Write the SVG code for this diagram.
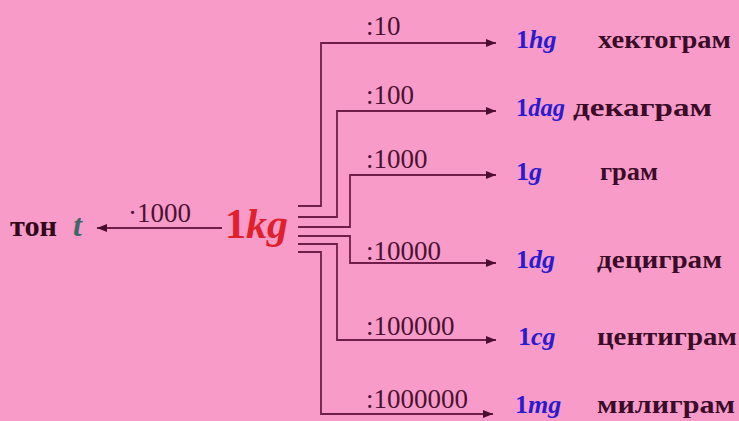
<svg xmlns="http://www.w3.org/2000/svg" width="739" height="421" viewBox="0 0 739 421">
<defs>
<style>
.bg{fill:#F89BC8}
.ln{fill:none;stroke:#6E1E48;stroke-width:1.8}
.lbl{font-family:"Liberation Serif","Times New Roman",serif;font-size:27px;fill:#4A1232}
.unit{font-family:"Liberation Serif","Times New Roman",serif;font-size:26px;font-weight:bold;fill:#2A1AD0}
.name{font-family:"Liberation Serif","Times New Roman",serif;font-size:26px;font-weight:bold;fill:#3A0C28}
.it{font-style:italic}
</style>
<marker id="ah" markerUnits="userSpaceOnUse" markerWidth="10" markerHeight="8" refX="10" refY="4" orient="auto">
<path d="M0,0 L10,4 L0,8 z" fill="#4A0E30"/>
</marker>
</defs>
<rect class="bg" x="0" y="0" width="739" height="421"/>
<g id="connectors">
<path class="ln" d="M222,228 L97,228" marker-end="url(#ah)"/>
<path class="ln" d="M298,206 L321,206 L321,43 L496,43" marker-end="url(#ah)"/>
<path class="ln" d="M298,217 L337,217 L337,111 L496,111" marker-end="url(#ah)"/>
<path class="ln" d="M298,227 L350,227 L350,175 L496,175" marker-end="url(#ah)"/>
<path class="ln" d="M298,236 L350,236 L350,263 L496,263" marker-end="url(#ah)"/>
<path class="ln" d="M298,244 L337,244 L337,340 L496,340" marker-end="url(#ah)"/>
<path class="ln" d="M298,252 L321,252 L321,414 L493,414" marker-end="url(#ah)"/>
<text class="lbl" x="128" y="222">·1000</text>
<text class="lbl" x="366" y="35">:10</text>
<text class="lbl" x="366" y="104">:100</text>
<text class="lbl" x="366" y="168">:1000</text>
<text class="lbl" x="366" y="260">:10000</text>
<text class="lbl" x="366" y="335">:100000</text>
<text class="lbl" x="366" y="408">:1000000</text>
</g>
<g id="ton">
<text x="10" y="236" font-family="Liberation Serif, serif" font-size="30" font-weight="bold" fill="#300818" textLength="47" lengthAdjust="spacingAndGlyphs">тон</text>
<text x="73" y="236" font-family="Liberation Serif, serif" font-size="32" font-weight="bold" font-style="italic" fill="#3D6868">t</text>
</g>
<g id="kg">
<text x="225" y="238" font-family="Liberation Serif, serif" font-size="42" font-weight="bold" fill="#E0202C">1<tspan class="it">kg</tspan></text>
</g>
<g id="hg">
<text class="unit" x="516" y="48">1<tspan class="it">hg</tspan></text>
<text class="name" x="598" y="48" textLength="133" lengthAdjust="spacingAndGlyphs">хектограм</text>
</g>
<g id="dag">
<text class="unit" x="516" y="116" textLength="49" lengthAdjust="spacingAndGlyphs">1<tspan class="it">dag</tspan></text>
<text class="name" x="573" y="116" textLength="139" lengthAdjust="spacingAndGlyphs">декаграм</text>
</g>
<g id="g">
<text class="unit" x="516" y="180">1<tspan class="it">g</tspan></text>
<text class="name" x="600" y="180" textLength="58" lengthAdjust="spacingAndGlyphs">грам</text>
</g>
<g id="dg">
<text class="unit" x="516" y="268">1<tspan class="it">dg</tspan></text>
<text class="name" x="597" y="268" textLength="125" lengthAdjust="spacingAndGlyphs">дециграм</text>
</g>
<g id="cg">
<text class="unit" x="518" y="345">1<tspan class="it">cg</tspan></text>
<text class="name" x="597" y="345" textLength="140" lengthAdjust="spacingAndGlyphs">центиграм</text>
</g>
<g id="mg">
<text class="unit" x="515" y="413">1<tspan class="it">mg</tspan></text>
<text class="name" x="597" y="413" textLength="138" lengthAdjust="spacingAndGlyphs">милиграм</text>
</g>
</svg>
